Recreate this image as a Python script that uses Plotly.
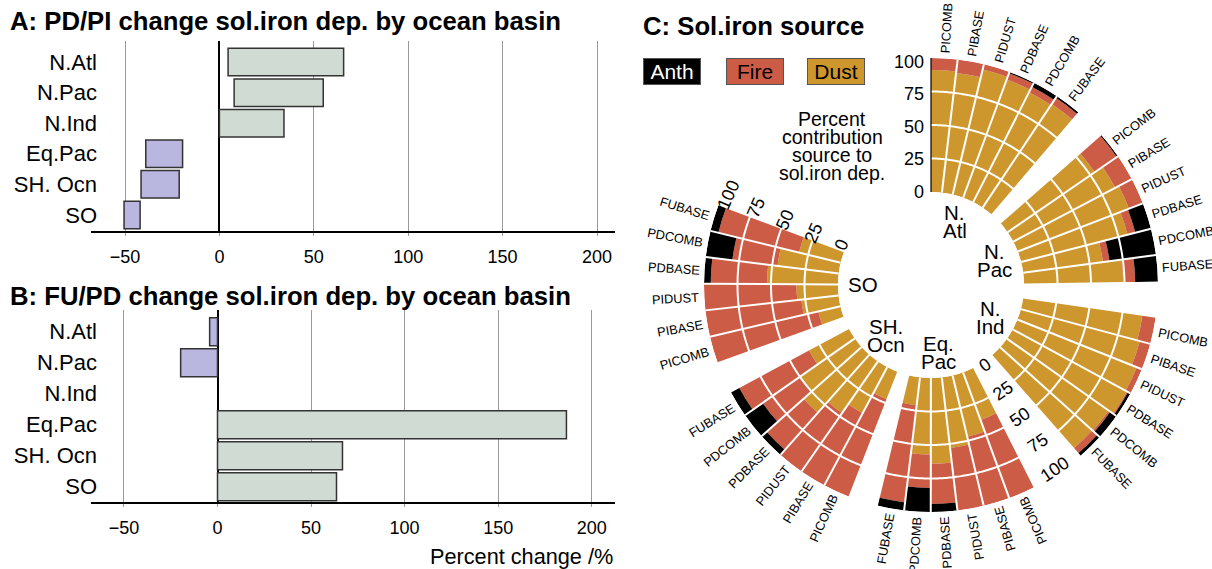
import math
import numpy as np
import plotly.graph_objects as go

W, H = 1212, 569
FONT = "Liberation Sans, Arial, sans-serif"

# ---------------- data: panels A and B ----------------
basins = ["N.Atl", "N.Pac", "N.Ind", "Eq.Pac", "SH. Ocn", "SO"]
pdpi_low = [4.6, 7.8, 0.0, -39.0, -41.5, -50.5]
pdpi_high = [65.8, 55.0, 34.2, -19.5, -21.3, -42.0]
fupd_low = [-4.2, -19.7, None, 0.0, 0.0, 0.0]
fupd_high = [0.0, 0.0, None, 186.5, 66.8, 63.6]
x_ticks = [-50, 0, 50, 100, 150, 200]

# ---------------- data: panel C ----------------
experiments = ["PICOMB", "PIBASE", "PIDUST", "PDBASE", "PDCOMB", "FUBASE"]
polar_basins = [["N.", "Atl"], ["N.", "Pac"], ["N.", "Ind"], ["Eq.", "Pac"], ["SH.", "Ocn"], ["SO"]]
dust = [
    [91, 90, 96, 94, 92, 93],
    [79, 86, 89, 82, 60, 74],
    [90, 92, 96, 97, 93, 92.5],
    [38, 47, 53, 64, 57, 21],
    [22, 39, 47, 58, 50, 34],
    [17, 28, 31, 53, 46, 32],
]
fire = [
    [9, 10, 4, 5, 4.5, 5.5],
    [20, 14, 11, 6, 5, 9],
    [10, 8, 4, 1, 1.5, 5],
    [62, 53, 47, 30, 25, 73],
    [78, 61, 53, 37, 34, 59],
    [83, 72, 69, 42, 34, 62],
]
anth = [
    [0, 0, 0, 1, 3.5, 1.5],
    [1, 0, 0, 12, 35, 17],
    [0, 0, 0, 2, 5.5, 2.5],
    [0, 0, 0, 6, 18, 6],
    [0, 0, 0, 5, 16, 7],
    [0, 0, 0, 5, 20, 6],
]
radial_ticks = [0, 25, 50, 75, 100]
sources = ["Anth", "Fire", "Dust"]

# ---------------- styling / layout constants ----------------
POS_C = "#D0DCD3"
NEG_C = "#B9B6E0"
DUST_C = "#CD972E"
FIRE_C = "#CD5C47"
ANTH_C = "#000000"
SRC_COLORS = {"Anth": ANTH_C, "Fire": FIRE_C, "Dust": DUST_C}

CX, CY = 931, 285          # polar centre (px)
R_OUT, R_IN = 227, 93      # outer radius / hole radius (px)
GROUP_START = [0, 48.7, 98.3, 153.1, 201.3, 250.1]
BAR_W = 6.74

annotations = []
shapes = []


def txt(xp, yp, text, size, angle=0, xanchor="center", yanchor="middle", color="black", **kw):
    annotations.append(dict(x=xp / W, y=1 - yp / H, xref="paper", yref="paper", text=text,
                            showarrow=False, textangle=angle, xanchor=xanchor, yanchor=yanchor,
                            font=dict(family=FONT, size=size, color=color), **kw))


def pol(theta, r):
    a = math.radians(theta)
    return CX + r * math.sin(a), CY - r * math.cos(a)


CHAR_W = {"A": .667, "B": .667, "C": .722, "D": .722, "E": .667, "F": .611, "I": .278,
          "M": .833, "O": .778, "P": .667, "S": .667, "T": .611, "U": .722}

fig = go.Figure()

# ---------------- panel A ----------------
colA = [POS_C if (lo + hi) > 0 else NEG_C for lo, hi in zip(pdpi_low, pdpi_high)]
fig.add_trace(go.Bar(y=basins, x=[hi - lo for lo, hi in zip(pdpi_low, pdpi_high)], base=pdpi_low,
                     orientation="h", width=0.9, marker=dict(color=colA, line=dict(color="#333333", width=1.5)),
                     xaxis="x", yaxis="y", showlegend=False, hoverinfo="skip"))

# ---------------- panel B ----------------
lenB = [None if lo is None else hi - lo for lo, hi in zip(fupd_low, fupd_high)]
colB = [POS_C if (lo is not None and (lo + hi) > 0) else NEG_C for lo, hi in zip(fupd_low, fupd_high)]
fig.add_trace(go.Bar(y=basins, x=lenB, base=fupd_low, orientation="h", width=0.9,
                     marker=dict(color=colB, line=dict(color="#333333", width=1.5)),
                     xaxis="x2", yaxis="y2", showlegend=False, hoverinfo="skip"))

# ---------------- panel C (polar) ----------------
thetas = [GROUP_START[g] + (i + 0.5) * BAR_W for g in range(len(dust)) for i in range(len(experiments))]
flat = lambda m: [v for row in m for v in row]
for name, vals, col in [("Dust", dust, DUST_C), ("Fire", fire, FIRE_C), ("Anth", anth, ANTH_C)]:
    fig.add_trace(go.Barpolar(r=flat(vals), theta=thetas, width=[BAR_W] * len(thetas), name=name,
                              marker=dict(color=col, line=dict(width=0)), subplot="polar",
                              showlegend=False, hoverinfo="skip"))

# white grid arcs over bars
arc_r, arc_t = [], []
for v in radial_ticks[1:-1]:
    tt = np.linspace(0, 360, 721)
    arc_r += [v] * len(tt) + [None]
    arc_t += list(tt) + [None]
fig.add_trace(go.Scatterpolar(r=arc_r, theta=arc_t, mode="lines", line=dict(color="white", width=2),
                              subplot="polar", showlegend=False, hoverinfo="skip"))
# white separators between bars
sep_r, sep_t = [], []
for g in range(len(GROUP_START)):
    for k in range(1, len(experiments)):
        t = GROUP_START[g] + k * BAR_W
        sep_r += [0, 100, None]
        sep_t += [t, t, None]
fig.add_trace(go.Scatterpolar(r=sep_r, theta=sep_t, mode="lines", line=dict(color="white", width=2),
                              subplot="polar", showlegend=False, hoverinfo="skip"))
# radial axis line
fig.add_trace(go.Scatterpolar(r=[radial_ticks[0], radial_ticks[-1]], theta=[0, 0], mode="lines",
                              line=dict(color="black", width=1.2), subplot="polar",
                              showlegend=False, hoverinfo="skip"))

# bar labels
LAB_SIZE = 12.8
for k, t in enumerate(thetas):
    name = experiments[k % len(experiments)]
    tw = sum(CHAR_W[c] for c in name) * LAB_SIZE
    ang = t - 90 if t < 145 else t - 270
    x, y = pol(t, 232 + tw / 2)
    txt(x, y, name, LAB_SIZE, angle=ang)

# basin labels in the hole
for g, lines in enumerate(polar_basins):
    mid = GROUP_START[g] + BAR_W * len(experiments) / 2
    x, y = pol(mid, 68)
    n = len(lines)
    for j, ln in enumerate(lines):
        txt(x, y + (j - (n - 1) / 2) * 18, ln, 20.5)

# radial tick labels (three copies of the scale)
for v in radial_ticks:
    x, y = pol(0, 93.3 + 1.3 * v)
    txt(x - 5, y, str(v), 18, xanchor="right")
    x, y = pol(294, 97.8 + 1.243 * v)
    txt(x, y, str(v), 18, angle=-66)
    x, y = pol(146, 96.5 + 1.26 * v)
    txt(x, y, str(v), 18, angle=-34)

# "Percent contribution" text
for j, ln in enumerate(["Percent", "contribution", "source to", "sol.iron dep."]):
    txt(832, 118.5 + j * 18.3, ln, 19.5)

# legend boxes
for s, xc in zip(sources, [672, 754.5, 836]):
    txt(xc, 71, s, 21, color="white" if s == "Anth" else "black", bgcolor=SRC_COLORS[s],
        bordercolor="#555555", borderwidth=1, borderpad=0, width=56, height=25)

# titles
TS = 25.7
txt(8, 21, "<b>A: PD/PI change sol.iron dep. by ocean basin</b>", TS, xanchor="left")
txt(8, 296, "<b>B: FU/PD change sol.iron dep. by ocean basin</b>", TS, xanchor="left")
txt(641, 26, "<b>C: Sol.iron source</b>", TS, xanchor="left")
txt(615, 556.5, "Percent change /%", 21.7, xanchor="right")

# ---------------- bar panel geometry ----------------
A_TOP, A_BOT = 41, 232
B_TOP, B_BOT = 309.5, 503
PLOT_L, AXIS_L, PLOT_R = 98, 91, 615
# baselines (x axis lines) extend slightly left of the panel
for yb in (A_BOT, B_BOT):
    shapes.append(dict(type="line", xref="paper", yref="paper", x0=AXIS_L / W, x1=PLOT_R / W,
                       y0=1 - yb / H, y1=1 - yb / H, line=dict(color="black", width=2), layer="above"))

A_ZERO, A_SCALE = 219.4, 1.888
B_ZERO, B_SCALE = 217.5, 1.871
A_RANGE = [(PLOT_L - A_ZERO) / A_SCALE, (PLOT_R - A_ZERO) / A_SCALE]
B_RANGE = [(PLOT_L - B_ZERO) / B_SCALE, (PLOT_R - B_ZERO) / B_SCALE]

xcommon = dict(tickvals=x_ticks, showgrid=True, gridcolor="#9a9a9a", gridwidth=1.4,
               zeroline=True, zerolinecolor="black", zerolinewidth=2, showline=False,
               ticks="outside", ticklen=3, tickcolor="#9a9a9a", tickwidth=1.4,
               tickfont=dict(family=FONT, size=18, color="black"), ticklabelstandoff=5)
ycommon = dict(type="category", categoryorder="array", categoryarray=basins,
               showgrid=False, zeroline=False, showline=False, ticks="",
               tickfont=dict(family=FONT, size=22, color="black"), ticklabelstandoff=0)

fig.update_layout(
    width=W, height=H, margin=dict(l=0, r=0, t=0, b=0),
    paper_bgcolor="white", plot_bgcolor="white", showlegend=False,
    font=dict(family=FONT, color="black"),
    xaxis=dict(domain=[PLOT_L / W, PLOT_R / W], anchor="y", range=A_RANGE, **xcommon),
    yaxis=dict(domain=[1 - A_BOT / H, 1 - A_TOP / H], anchor="x", range=[5.56, -0.69], **ycommon),
    xaxis2=dict(domain=[PLOT_L / W, PLOT_R / W], anchor="y2", range=B_RANGE, **xcommon),
    yaxis2=dict(domain=[1 - B_BOT / H, 1 - B_TOP / H], anchor="x2", range=[5.526, -0.716], **ycommon),
    polar=dict(
        domain=dict(x=[(CX - R_OUT) / W, (CX + R_OUT) / W], y=[1 - (CY + R_OUT) / H, 1 - (CY - R_OUT) / H]),
        hole=R_IN / R_OUT, bgcolor="white", barmode="stack", bargap=0,
        angularaxis=dict(rotation=90, direction="clockwise", thetaunit="degrees", showline=False,
                         showgrid=False, showticklabels=False, ticks=""),
        radialaxis=dict(range=[0, 100], showline=False, showgrid=False, showticklabels=False, ticks=""),
    ),
    annotations=annotations,
    shapes=shapes,
)

fig.write_html("out.html", config={"displayModeBar": False},
               post_script="document.body.style.margin='0px';document.body.style.overflow='hidden';")
